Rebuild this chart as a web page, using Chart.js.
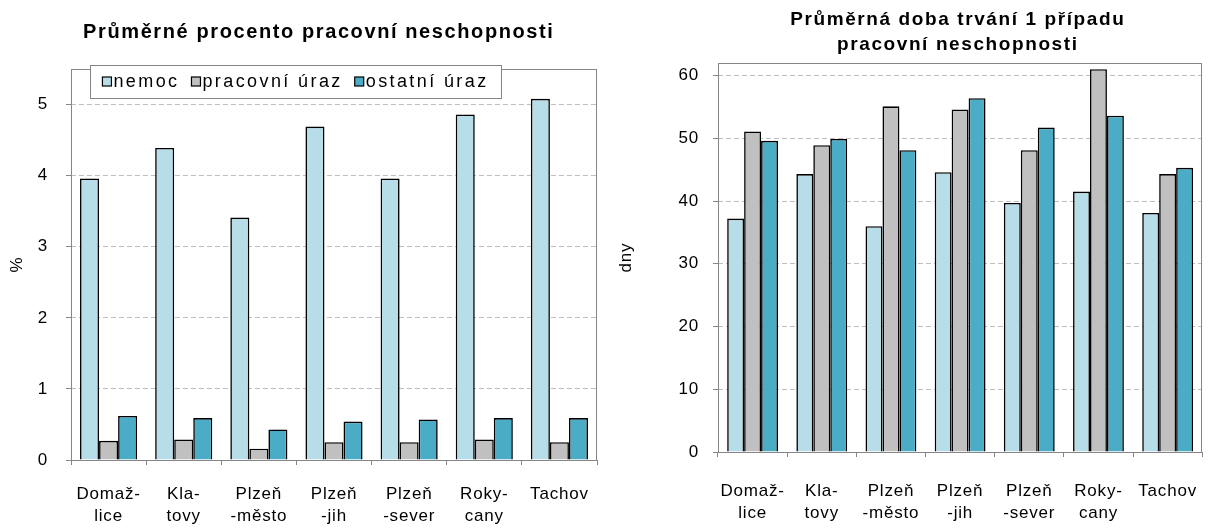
<!DOCTYPE html>
<html>
<head>
<meta charset="utf-8">
<script src="https://cdn.jsdelivr.net/npm/chart.js@4.4.1/dist/chart.umd.min.js"></script>
<style>
  html, body { margin: 0; padding: 0; background: #fff; }
  #wrap { position: relative; width: 1218px; height: 528px; }
  .pane { position: absolute; top: 0; width: 609px; height: 528px; }
</style>
</head>
<body>
<div id="wrap">
  <div class="pane" style="left:0"><canvas id="pct"></canvas></div>
  <div class="pane" style="left:609px"><canvas id="days"></canvas></div>
</div>
<script>
const districts = [['Domaž-', 'lice'], ['Kla-', 'tovy'], ['Plzeň', '-město'], ['Plzeň', '-jih'], ['Plzeň', '-sever'], ['Roky-', 'cany'], ['Tachov']];
const seriesNames = ['nemoc', 'pracovní úraz', 'ostatní úraz'];
const seriesColors = ['#B7DEE8', '#C0C0C0', '#4BACC6'];

// průměrné procento pracovní neschopnosti (%)
const pctNemoc = [3.96, 4.39, 3.41, 4.69, 3.96, 4.86, 5.08];
const pctPracovni = [0.27, 0.29, 0.16, 0.25, 0.25, 0.29, 0.25];
const pctOstatni = [0.62, 0.59, 0.43, 0.54, 0.57, 0.59, 0.59];

// průměrná doba trvání 1 případu (dny)
const dnyNemoc = [37.2, 44.3, 36.0, 44.6, 39.7, 41.5, 38.1];
const dnyPracovni = [51.1, 48.9, 55.1, 54.6, 48.1, 61.0, 44.3];
const dnyOstatni = [49.6, 49.9, 48.1, 56.4, 51.7, 53.6, 45.3];

const FONT = "'Liberation Sans', Arial, sans-serif";
Chart.defaults.font.family = FONT;
Chart.defaults.color = '#000';

// gray frame round the plot area + letter spacing like the original
const frame = {
  id: 'frame',
  beforeDraw(chart) {
    chart.ctx.letterSpacing = '0.8px';
  },
  beforeDatasetsDraw(chart) {
    const { ctx, chartArea: a } = chart;
    ctx.save();
    ctx.strokeStyle = '#868686';
    ctx.lineWidth = 1;
    ctx.strokeRect(Math.round(a.left) + 0.5, Math.round(a.top) + 0.5, Math.round(a.width) - 1, Math.round(a.height));
    ctx.restore();
  }
};

// chart heading, drawn centred on a given x
const heading = {
  id: 'heading',
  afterDraw(chart, args, opts) {
    const ctx = chart.ctx;
    ctx.save();
    ctx.letterSpacing = opts.spacing + 'px';
    ctx.font = 'bold ' + opts.size + 'px ' + FONT;
    ctx.fillStyle = '#000';
    ctx.textAlign = 'center';
    ctx.textBaseline = 'middle';
    opts.lines.forEach((line, i) => {
      ctx.fillText(line, opts.x + opts.spacing / 2, opts.y + i * opts.lineGap);
    });
    ctx.restore();
  }
};

// legend in a white box laid over the top of the plot area
const boxLegend = {
  id: 'boxLegend',
  afterDraw(chart, args, opts) {
    if (!opts.show) return;
    const { ctx, chartArea: a } = chart;
    const x0 = a.left + opts.dx, y0 = a.top + opts.dy;
    ctx.save();
    ctx.fillStyle = '#fff';
    ctx.fillRect(x0, y0, opts.w, opts.h);
    ctx.strokeStyle = '#868686';
    ctx.lineWidth = 1;
    ctx.strokeRect(x0 + 0.5, y0 + 0.5, opts.w, opts.h);
    ctx.font = '18px ' + FONT;
    ctx.letterSpacing = '2.4px';
    ctx.textBaseline = 'middle';
    const box = 9, gap = 2;
    const items = chart.data.datasets.map(ds => ({ label: ds.label, color: ds.backgroundColor, w: ctx.measureText(ds.label).width }));
    const total = items.reduce((s, it) => s + box + gap + it.w, 0) + opts.itemGap * (items.length - 1);
    let x = x0 + (opts.w - total) / 2;
    const cy = y0 + opts.h / 2;
    items.forEach(it => {
      ctx.fillStyle = it.color;
      ctx.fillRect(x, cy - box / 2, box, box);
      ctx.strokeStyle = '#000';
      ctx.lineWidth = 1.2;
      ctx.strokeRect(x, cy - box / 2, box, box);
      ctx.fillStyle = '#000';
      ctx.fillText(it.label, x + box + gap, cy + 1);
      x += box + gap + it.w + opts.itemGap;
    });
    ctx.restore();
  }
};

function makeChart(id, values, cfg) {
  return new Chart(document.getElementById(id), {
    type: 'bar',
    data: {
      labels: districts,
      datasets: values.map((vals, i) => ({
        label: seriesNames[i],
        data: vals,
        backgroundColor: seriesColors[i],
        borderColor: '#000',
        borderWidth: 1.6,
        borderSkipped: 'bottom',
        categoryPercentage: cfg.catPct,
        barPercentage: 1.0
      }))
    },
    plugins: [frame, heading, boxLegend],
    options: {
      responsive: true,
      maintainAspectRatio: false,
      animation: false,
      layout: { padding: { left: 6, right: cfg.padRight, top: cfg.plotTop, bottom: 0 } },
      plugins: {
        legend: { display: false },
        title: { display: false },
        tooltip: { enabled: false },
        heading: cfg.heading,
        boxLegend: cfg.legend
      },
      scales: {
        x: {
          grid: { offset: true, drawOnChartArea: false, drawTicks: true, tickLength: 5, tickColor: '#868686' },
          border: { display: false },
          ticks: {
            color: '#000', autoSkip: false, maxRotation: 0, minRotation: 0,
            padding: cfg.xPad, font: { size: 17, lineHeight: '22px' }
          },
          afterFit(s) { s.height = cfg.xHeight; }
        },
        y: {
          min: 0,
          max: cfg.yMax,
          ticks: { stepSize: cfg.yStep, padding: cfg.yPad, color: '#000', font: { size: 17 } },
          afterBuildTicks(s) {
            const t = [];
            for (let v = 0; v <= cfg.yMax; v += cfg.yStep) t.push({ value: v });
            s.ticks = t;
          },
          grid: { color: '#BFBFBF', lineWidth: 1, tickLength: 5, tickColor: '#868686' },
          border: { display: false, dash: [5, 3] },
          title: { display: true, text: cfg.yTitle, color: '#000', font: { size: 17 }, padding: { top: 1, bottom: 0 } },
          afterFit(s) { s.width = cfg.yWidth; }
        }
      }
    }
  });
}

makeChart('pct', [pctNemoc, pctPracovni, pctOstatni], {
  catPct: 0.76, padRight: 12, plotTop: 69, xHeight: 68, xPad: 18, yPad: 18, yWidth: 65,
  yMax: 5.5, yStep: 1, yTitle: '%',
  heading: { lines: ['Průměrné procento pracovní neschopnosti'], x: 318, y: 32, lineGap: 25, size: 20, spacing: 1.6 },
  legend: { show: true, dx: 19, dy: -4, w: 411, h: 33, itemGap: 12 }
});

makeChart('days', [dnyNemoc, dnyPracovni, dnyOstatni], {
  catPct: 0.735, padRight: 6, plotTop: 63, xHeight: 76, xPad: 23, yPad: 14, yWidth: 103,
  yMax: 62, yStep: 10, yTitle: 'dny',
  heading: { lines: ['Průměrná doba trvání 1 případu', 'pracovní neschopnosti'], x: 348, y: 20, lineGap: 25, size: 19, spacing: 1.6 },
  legend: { show: false }
});
</script>
</body>
</html>
